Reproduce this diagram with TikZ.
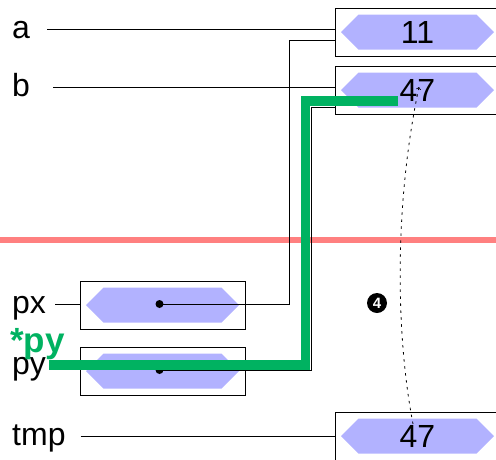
\documentclass[tikz,border=0pt]{standalone}
\usepackage{fontspec}
\setmainfont{Liberation Sans}
\usetikzlibrary{shapes.symbols}
\definecolor{hx}{rgb}{.7,.7,1}
\definecolor{gr}{rgb}{0,.7,.38}
\definecolor{pk}{rgb}{1,.5,.5}

\begin{document}
\begin{tikzpicture}[x=1pt, y=-1pt,
    varname/.style={anchor=west, inner sep=0pt, text height=23pt, text depth=5pt,
                    font=\fontsize{32}{38}\selectfont},
    cellbox/.style={draw, line width=.9pt, minimum width=165pt, minimum height=48pt, inner sep=0pt},
    val/.style={signal, signal to=east and west, signal pointer angle=90, fill=hx,
                minimum width=153pt, minimum height=35pt, inner sep=0pt,
                font=\fontsize{32}{38}\selectfont},
    ptrdot/.style={circle, fill=black, inner sep=0pt, minimum size=8pt},
    ptr/.style={line width=.9pt}]

      \useasboundingbox (0,0) rectangle (496,459);

      % separator
      \fill[pk] (0,237) rectangle (496,243);

      \node[varname] (a) at (12,29) {a};
      \node[varname] (b) at (12,87) {b};
      \node[varname] (px) at (12,304) {px};
      \node[varname] (py) at (12,365) {py};
      \node[varname] (tmp) at (12,436) {tmp};

      \node[cellbox] (abox) at (417.5,32) {};
      \node[cellbox] (bbox) at (417.5,90) {};
      \node[cellbox] (pxbox) at (162.5,305) {};
      \node[cellbox] (pybox) at (162.5,371) {};
      \node[cellbox] (tmpbox) at (417.5,436) {};

      \node[val] (av) at (abox) {11};
      \node[val] (bv) at (bbox) {47};
      \node[val] (pxv) at (pxbox) {};
      \node[val] (pyv) at (pybox) {};
      \node[val] (tmpv) at (tmpbox) {47};

      \draw[ptr] ([xshift=17pt]a.east) -- (a.east -| abox.west);
      \draw[ptr] ([xshift=23pt]b.east) -- (b.east -| bbox.west);
      \draw[ptr] ([xshift=9pt]px.east) -- (px.east -| pxbox.west);
      \draw[ptr] ([xshift=3pt]py.east) -- (py.east -| pybox.west);
      \draw[ptr] ([xshift=15pt]tmp.east) -- (tmp.east -| tmpbox.west);

      % pointers
      \node[ptrdot] (pxdot) at (159.5,304) {};
      \node[ptrdot] (pydot) at (159.5,370) {};
      \coordinate (pxbend) at (289,40);
      \coordinate (pybend) at (311,107);
      \draw[ptr] (pxdot.center) -| (pxbend) -- (pxbend -| abox.west);
      \draw[ptr] (pydot.center) -| (pybend) -- (pybend -| bbox.west);

      % *py
      \coordinate (derefbend) at (305.5,101);
      \draw[gr, line width=9.5pt] ([xshift=3pt]py.east) -- (py.east -| derefbend)
        -- (derefbend) -- ([xshift=-20pt]derefbend -| bv.center);
      \node[varname, gr, font=\fontsize{35}{40}\bfseries] (deref) at (10,343) {*py};

      % copy of *py
      \draw[line width=.8pt, dash pattern=on 2.5pt off 4.5pt, ->]
        ([shift={(-4.5,-12)}]tmpv.center) .. controls (395,330) and (395,200)
        .. ([shift={(1.5,-3)}]bv.center);
      \node[circle, fill=black, text=white, inner sep=0pt, minimum size=20pt,
            font=\fontsize{15}{15}\bfseries] (four) at (377,303) {4};

\end{tikzpicture}
\end{document}
